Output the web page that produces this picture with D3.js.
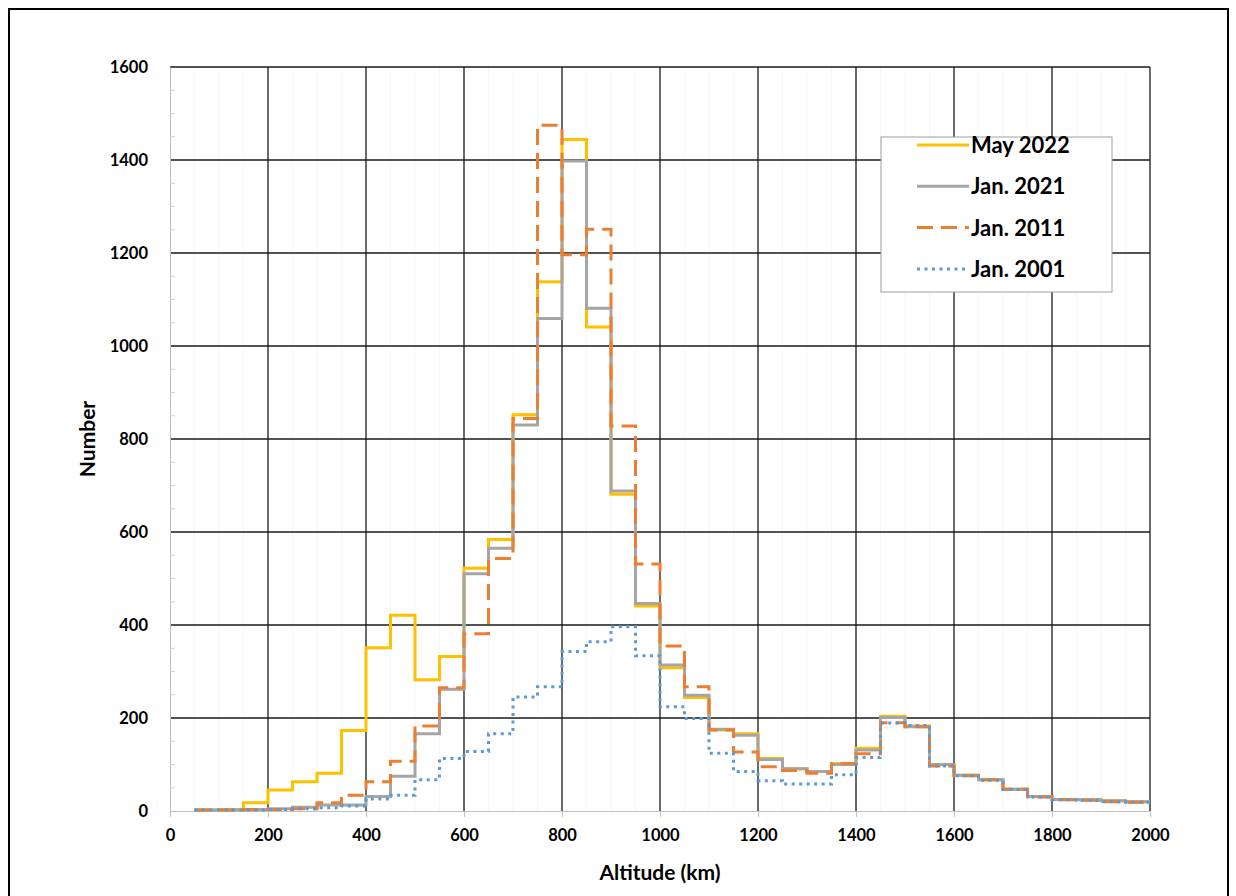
<!DOCTYPE html>
<meta charset="utf-8">
<script src="https://d3js.org/d3.v7.min.js"></script>
<style>
  body { margin: 0; background: #fff; }
  text { font-family: Lato, "Open Sans", sans-serif; font-weight: bold; fill: #000; }
</style>
<div id="chart"></div>
<script>

    const width = 1236;
    const height = 896;
    const marginTop = 67;
    const marginRight = 86;
    const marginBottom = 85;
    const marginLeft = 170;

    // bin start (km), every bin is 50 km wide
    const bins = d3.range(50, 2000, 50);

    const may2022 = [2, 3, 18, 45, 63, 81, 173, 351, 421, 282, 332, 522, 584, 852, 1138, 1444, 1041, 681, 441, 308,
        244, 174, 166, 113, 91, 85, 102, 135, 204, 183, 100, 77, 67, 47, 31, 25, 24, 22, 20];
    const jan2021 = [2, 2, 3, 5, 8, 13, 13, 31, 75, 166, 262, 510, 565, 830, 1059, 1398, 1081, 688, 446, 314,
        249, 176, 163, 111, 91, 85, 100, 131, 201, 181, 100, 77, 67, 47, 31, 25, 24, 22, 20];
    const jan2011 = [2, 2, 3, 3, 5, 18, 34, 63, 107, 183, 265, 381, 543, 844, 1475, 1196, 1251, 828, 531, 355,
        267, 174, 127, 95, 87, 81, 102, 123, 190, 181, 97, 76, 67, 47, 30, 24, 23, 20, 19];
    const jan2001 = [2, 2, 2, 3, 5, 7, 11, 26, 34, 67, 113, 128, 166, 245, 267, 343, 364, 396, 334, 224,
        199, 124, 85, 65, 58, 58, 78, 115, 189, 184, 97, 76, 66, 46, 30, 24, 23, 20, 19];

    const seriesNames = ["May 2022", "Jan. 2021", "Jan. 2011", "Jan. 2001"];
    const xTicks = d3.range(0, 2001, 200);
    const yTicks = d3.range(0, 1601, 200);

    const series = [
        { name: seriesNames[0], values: may2022, color: "#FFC000", dash: null, width: 3 },
        { name: seriesNames[1], values: jan2021, color: "#A5A5A5", dash: null, width: 3 },
        { name: seriesNames[2], values: jan2011, color: "#ED7D31", dash: "16,8", width: 3 },
        { name: seriesNames[3], values: jan2001, color: "#5B9BD5", dash: "3,4.5", width: 3 },
    ];

    const svg = d3.select("#chart")
        .append("svg")
        .attr("width", width)
        .attr("height", height);

    // outer frame
    svg.append("rect")
        .attr("x", 9).attr("y", 9)
        .attr("width", 1219).attr("height", 900)
        .attr("fill", "none")
        .attr("stroke", "#000")
        .attr("stroke-width", 2);

    const x = d3.scaleLinear()
        .domain([0, 2000])
        .range([marginLeft, width - marginRight]);

    const y = d3.scaleLinear()
        .domain([0, 1600])
        .range([height - marginBottom, marginTop]);

    // faint minor grid
    svg.append("g")
        .selectAll("line")
        .data(d3.range(50, 2000, 50).filter(d => d % 200 !== 0))
        .join("line")
        .attr("x1", d => x(d)).attr("x2", d => x(d))
        .attr("y1", y(0)).attr("y2", y(1600))
        .attr("stroke", "#f6f6f6");

    // horizontal grid
    svg.append("g")
        .selectAll("line")
        .data(yTicks.filter(d => d > 0))
        .join("line")
        .attr("x1", x(0)).attr("x2", x(2000))
        .attr("y1", d => y(d)).attr("y2", d => y(d))
        .attr("stroke", "#1a1a1a")
        .attr("stroke-width", 1.3);

    // vertical grid
    svg.append("g")
        .selectAll("line")
        .data(xTicks.filter(d => d > 0))
        .join("line")
        .attr("x1", d => x(d)).attr("x2", d => x(d))
        .attr("y1", y(0)).attr("y2", y(1600))
        .attr("stroke", "#1a1a1a")
        .attr("stroke-width", 1.3);

    // x axis
    svg.append("g")
        .attr("transform", `translate(0,${y(0)})`)
        .call(d3.axisBottom(x).tickValues(xTicks).tickFormat(d3.format("d"))
            .tickSize(6).tickPadding(12).tickSizeOuter(0))
        .call(g => g.select(".domain").attr("stroke", "#bfbfbf"))
        .call(g => g.selectAll(".tick line").attr("stroke", "#bfbfbf"))
        .call(g => g.selectAll(".tick text").attr("font-size", 16.5));

    // y axis
    svg.append("g")
        .attr("transform", `translate(${x(0)},0)`)
        .call(d3.axisLeft(y).tickValues(yTicks).tickFormat(d3.format("d"))
            .tickSize(0).tickPadding(22).tickSizeOuter(0))
        .call(g => g.select(".domain").attr("stroke", "#bfbfbf"))
        .call(g => g.selectAll(".tick text").attr("font-size", 16.5));

    // minor y ticks inside the axis
    svg.append("g")
        .selectAll("line")
        .data(d3.range(50, 1600, 50).filter(d => d % 200 !== 0))
        .join("line")
        .attr("x1", x(0)).attr("x2", x(0) + 5)
        .attr("y1", d => y(d)).attr("y2", d => y(d))
        .attr("stroke", "#d0d0d0");

    // step lines
    const line = d3.line()
        .curve(d3.curveStepAfter)
        .x(d => x(d[0]))
        .y(d => y(d[1]));

    series.forEach(s => {
        const pts = bins.map((b, i) => [b, s.values[i]]);
        pts.push([2000, s.values[s.values.length - 1]]);
        svg.append("path")
            .datum(pts)
            .attr("fill", "none")
            .attr("stroke", s.color)
            .attr("stroke-width", s.width)
            .attr("stroke-dasharray", s.dash)
            .attr("d", line);
    });

    // axis titles
    svg.append("text")
        .attr("x", (x(0) + x(2000)) / 2)
        .attr("y", 880)
        .attr("text-anchor", "middle")
        .attr("font-size", 21)
        .text("Altitude (km)");

    svg.append("text")
        .attr("transform", `translate(95,${(y(0) + y(1600)) / 2}) rotate(-90)`)
        .attr("text-anchor", "middle")
        .attr("font-size", 21)
        .text("Number");

    // legend
    const legend = svg.append("g").attr("transform", "translate(881,137)");
    legend.append("rect")
        .attr("width", 231).attr("height", 155)
        .attr("fill", "#fff")
        .attr("stroke", "#a0a0a0");

    series.forEach((s, i) => {
        const row = legend.append("g").attr("transform", `translate(0,${8 + i * 41.3})`);
        row.append("line")
            .attr("x1", 36).attr("x2", 88)
            .attr("y1", 0).attr("y2", 0)
            .attr("stroke", s.color)
            .attr("stroke-width", s.width)
            .attr("stroke-dasharray", s.dash);
        row.append("text")
            .attr("x", 90)
            .attr("y", 8)
            .attr("font-size", 22)
            .text(s.name);
    });

</script>
